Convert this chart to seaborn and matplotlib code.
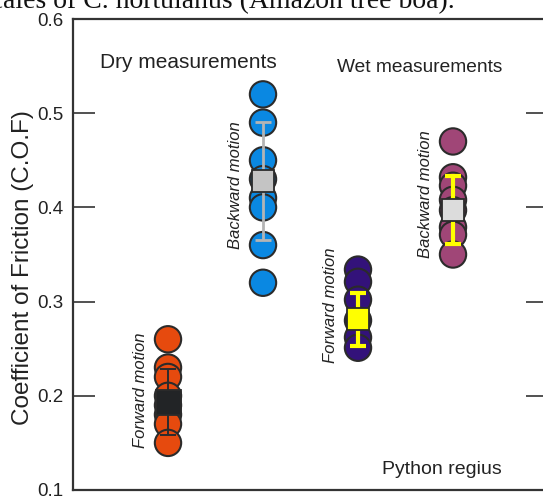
import matplotlib
matplotlib.use("Agg")
import matplotlib.pyplot as plt
import seaborn as sns
import pandas as pd
import numpy as np

# ---- data ----
groups = ["Dry forward", "Dry backward", "Wet forward", "Wet backward"]
group_pos = [1, 2, 3, 4]
dry_forward = [0.26, 0.23, 0.22, 0.20, 0.19, 0.18, 0.17, 0.15]
dry_backward = [0.52, 0.49, 0.45, 0.43, 0.41, 0.40, 0.36, 0.32]
wet_forward = [0.334, 0.321, 0.302, 0.28, 0.262, 0.251]
wet_backward = [0.47, 0.432, 0.423, 0.408, 0.397, 0.379, 0.371, 0.35]
means = [0.193, 0.428, 0.281, 0.397]
sds = [0.035, 0.063, 0.028, 0.036]
motion_labels = ["Forward motion", "Backward motion", "Forward motion", "Backward motion"]
label_y = [0.206, 0.424, 0.296, 0.414]
y_ticks = [0.1, 0.2, 0.3, 0.4, 0.5, 0.6]
y_tick_labels = ["0.1", "0.2", "0.3", "0.4", "0.5", "0.6"]

point_colors = ["#E64A0E", "#0A88E2", "#33127A", "#A04677"]
box_colors = ["#222426", "#C4C4C4", "#FFFF00", "#DCDCDC"]
bar_colors = ["#2A2C2E", "#B4B4B4", "#FFFF00", "#FFFF00"]
bar_widths = [1.4, 2.0, 3.0, 3.0]
box_sizes = [18, 16, 16, 16]

series = [dry_forward, dry_backward, wet_forward, wet_backward]
rows = []
for g, p, vals in zip(groups, group_pos, series):
    for v in vals:
        rows.append({"group": g, "x": p, "cof": v})
df = pd.DataFrame(rows)

sns.set_style("ticks")
plt.rcParams["font.family"] = ["Liberation Sans", "DejaVu Sans"]

fig = plt.figure(figsize=(5.43, 5.0), dpi=100)
ax = fig.add_axes([73 / 543, 1 - 490 / 500, (548 - 73) / 543, (490 - 19) / 500])

sns.scatterplot(data=df, x="x", y="cof", hue="group", palette=dict(zip(groups, point_colors)),
                s=360, edgecolor="#2B2B2B", linewidth=1.5, legend=False, ax=ax, zorder=2)

for p, m, sd, bc, ec, lw, bs in zip(group_pos, means, sds, box_colors, bar_colors, bar_widths, box_sizes):
    ax.errorbar([p], [m], yerr=[sd], fmt="none", ecolor=ec, elinewidth=lw,
                capsize=6, capthick=lw, zorder=3)
    ax.plot([p], [m], marker="s", ms=bs, mfc=bc, mec="#2B2B2B", mew=1.3,
            linestyle="none", zorder=4)

for p, txt, ly in zip(group_pos, motion_labels, label_y):
    ax.text(p - 0.29, ly, txt, rotation=90, ha="center", va="center",
            fontsize=12, style="italic", color="#222222")

ax.text(0.284, 0.554, "Dry measurements", ha="left", va="center", fontsize=15, color="#222222")
ax.text(2.78, 0.548, "Wet measurements", ha="left", va="center", fontsize=13.8, color="#222222")
ax.text(3.25, 0.122, "Python regius", ha="left", va="center", fontsize=14, color="#222222")

ax.set_xlim(0, 5)
ax.set_ylim(0.1, 0.6)
ax.set_yticks(y_ticks)
ax.set_yticklabels(y_tick_labels)
ax.set_xticks([])
ax.set_xlabel("")
ax.set_ylabel("Coefficient of Friction (C.O.F)", fontsize=17.5, color="#222222")
ax.yaxis.set_label_coords(-0.082, 0.473)
ax.tick_params(axis="y", direction="in", length=16, width=1.2, colors="#333333",
               labelsize=13.5, labelcolor="#222222", pad=7, right=True)
for sp in ax.spines.values():
    sp.set_color("#333333")
    sp.set_linewidth(1.6)

fig.text(455 / 543, 1 - 8 / 500, "scales of C. hortulanus (Amazon tree boa).",
         ha="right", va="baseline", fontsize=20, family=["Liberation Serif", "DejaVu Serif"],
         color="#111111")

fig.savefig("out.png", dpi=100)
